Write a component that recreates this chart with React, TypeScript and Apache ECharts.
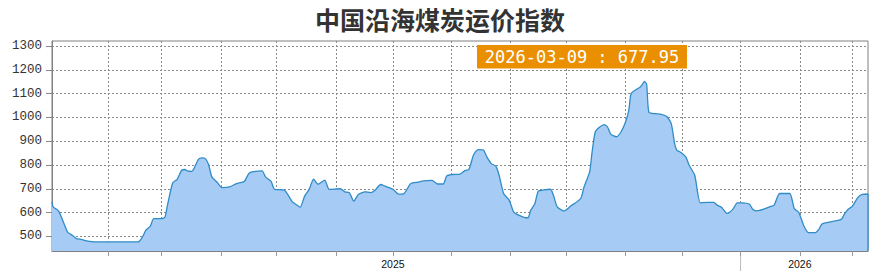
import { useEffect, useRef } from "react";
import * as echarts from "echarts";

const TITLE = "中国沿海煤炭运价指数";

const dates: string[] = [
  "2024-03-09", "2024-03-10", "2024-03-15", "2024-03-23", "2024-03-26", "2024-03-31",
  "2024-04-04", "2024-04-10", "2024-04-19", "2024-05-25", "2024-05-29", "2024-06-01",
  "2024-06-05", "2024-06-08", "2024-06-15", "2024-06-18", "2024-06-20", "2024-06-25",
  "2024-06-29", "2024-07-03", "2024-07-06", "2024-07-08", "2024-07-12", "2024-07-14",
  "2024-07-18", "2024-07-21", "2024-07-24", "2024-07-27", "2024-07-30", "2024-08-04",
  "2024-08-08", "2024-08-15", "2024-08-21", "2024-08-28", "2024-09-01", "2024-09-04",
  "2024-09-09", "2024-09-13", "2024-09-16", "2024-09-21", "2024-09-24", "2024-10-03",
  "2024-10-10", "2024-10-13", "2024-10-17", "2024-10-21", "2024-10-25", "2024-10-29",
  "2024-11-02", "2024-11-08", "2024-11-12", "2024-11-22", "2024-11-26", "2024-11-30",
  "2024-12-04", "2024-12-08", "2024-12-14", "2024-12-19", "2024-12-23", "2024-12-28",
  "2025-01-01", "2025-01-08", "2025-01-13", "2025-01-18", "2025-01-24", "2025-01-31",
  "2025-02-04", "2025-02-12", "2025-02-17", "2025-02-22", "2025-02-25", "2025-03-02",
  "2025-03-09", "2025-03-13", "2025-03-17", "2025-03-21", "2025-03-25", "2025-03-30",
  "2025-04-02", "2025-04-06", "2025-04-10", "2025-04-13", "2025-04-17", "2025-04-22",
  "2025-04-26", "2025-05-01", "2025-05-07", "2025-05-09", "2025-05-11", "2025-05-15",
  "2025-05-18", "2025-05-23", "2025-05-29", "2025-06-01", "2025-06-04", "2025-06-10",
  "2025-06-16", "2025-06-25", "2025-06-28", "2025-07-03", "2025-07-05", "2025-07-08",
  "2025-07-12", "2025-07-16", "2025-07-19", "2025-07-22", "2025-07-27", "2025-07-31",
  "2025-08-04", "2025-08-07", "2025-08-09", "2025-08-13", "2025-08-17", "2025-08-19",
  "2025-08-21", "2025-08-23", "2025-08-25", "2025-08-31", "2025-09-05", "2025-09-10",
  "2025-09-14", "2025-09-17", "2025-09-19", "2025-09-22", "2025-09-27", "2025-09-30",
  "2025-10-05", "2025-10-10", "2025-10-16", "2025-10-22", "2025-10-25", "2025-10-29",
  "2025-11-03", "2025-11-08", "2025-11-12", "2025-11-17", "2025-11-23", "2025-11-26",
  "2025-11-30", "2025-12-05", "2025-12-11", "2025-12-15", "2025-12-20", "2025-12-29",
  "2026-01-02", "2026-01-06", "2026-01-11", "2026-01-15", "2026-01-21", "2026-01-24",
  "2026-01-27", "2026-02-13", "2026-02-16", "2026-02-19", "2026-02-23", "2026-02-28",
  "2026-03-04", "2026-03-09",
];

const values: number[] = [
  645, 624, 606, 517, 508, 490,
  487, 480, 476, 476, 498, 526,
  543, 574, 574, 580, 624, 725,
  740, 778, 781, 775, 773, 785,
  824, 830, 828, 803, 750, 726,
  705, 708, 722, 731, 764, 771,
  774, 775, 750, 731, 698, 694,
  645, 635, 622, 669, 697, 740,
  719, 736, 697, 700, 687, 683,
  648, 676, 687, 684, 694, 718,
  711, 698, 677, 680, 722, 728,
  733, 735, 720, 720, 753, 760,
  762, 775, 782, 841, 865, 863,
  834, 806, 795, 757, 680, 652,
  603, 588, 578, 578, 607, 638,
  690, 695, 698, 666, 624, 606,
  627, 659, 708, 771, 848, 939,
  960, 970, 960, 929, 919, 939,
  980, 1030, 1100, 1116, 1127, 1139,
  1152, 1139, 1022, 1016, 1013, 1004,
  974, 890, 862, 855, 834, 799,
  757, 641, 643, 643, 631, 622,
  596, 613, 641, 641, 635, 613,
  607, 613, 624, 631, 680, 680,
  617, 601, 540, 515, 515, 529,
  552, 571, 594, 613, 626, 664,
  676, 677.95,
];

const yTicks: number[] = [500, 600, 700, 800, 900, 1000, 1100, 1200, 1300];
const xTickDates: string[] = [
  "2024-04-28", "2024-06-15", "2024-08-07", "2024-09-26", "2024-11-18", "2025-01-08",
  "2025-03-01", "2025-04-23", "2025-06-12", "2025-08-04", "2025-09-24", "2025-11-15",
  "2026-01-07", "2026-02-23",
];
const yearLabelDates: string[] = ["2025-01-08", "2026-01-07"];
const separatorDate = "2025-11-15";

function toTs(s: string): number {
  const [y, m, d] = s.split("-").map(Number);
  return new Date(y, m - 1, d).getTime();
}

export default function App() {
  const ref = useRef<HTMLDivElement>(null);

  useEffect(() => {
    if (!ref.current) return;
    const chart = echarts.init(ref.current, null, { renderer: "svg" });
    const data = dates.map((d, i) => [toTs(d), values[i]]);
    const lastDate = dates[dates.length - 1];
    const lastValue = values[values.length - 1];

    chart.setOption({
      animation: false,
      backgroundColor: "#ffffff",
      title: {
        text: TITLE,
        left: "center",
        top: 1,
        textStyle: {
          fontFamily: "Noto Sans CJK SC",
          fontSize: 25,
          fontWeight: "bold",
          color: "#333333",
        },
      },
      grid: {
        left: 52,
        right: 12,
        top: 41,
        bottom: 27,
        show: true,
        borderColor: "#808080",
        borderWidth: 1,
      },
      xAxis: {
        type: "value",
        min: toTs(dates[0]),
        max: toTs(lastDate),
        axisLine: { show: true, lineStyle: { color: "#808080", width: 1 } },
        axisTick: {
          show: true,
          length: 5,
          customValues: xTickDates.map(toTs),
          lineStyle: { color: "#999999" },
        },
        axisLabel: {
          customValues: yearLabelDates.map(toTs),
          formatter: (v: number) => String(new Date(v).getFullYear()),
          fontFamily: "Liberation Sans",
          fontSize: 10.5,
          color: "#111111",
          margin: 7,
        },
        splitLine: {
          show: true,
          lineStyle: { color: "#8a8a8a", type: [2, 2], width: 1 },
        },
      },
      yAxis: {
        type: "value",
        min: 438,
        max: 1322,
        axisLine: { show: true, lineStyle: { color: "#808080", width: 1 } },
        axisTick: {
          show: true,
          length: 6,
          customValues: yTicks,
          lineStyle: { color: "#888888" },
        },
        axisLabel: {
          customValues: yTicks,
          formatter: (v: number) => String(v),
          fontFamily: "Liberation Mono",
          fontSize: 12.5,
          color: "#333333",
          margin: 10,
        },
        splitLine: {
          show: true,
          lineStyle: { color: "#8a8a8a", type: [2, 2], width: 1 },
        },
      },
      series: [
        {
          type: "line",
          data,
          showSymbol: false,
          smooth: 0.2,
          lineStyle: { color: "#2f8cc6", width: 1.3 },
          areaStyle: { color: "#a6cbf5", opacity: 1 },
          z: 2,
        },
      ],
    });

    const sepX = chart.convertToPixel({ xAxisIndex: 0 }, toTs(separatorDate)) as number;
    const endPt = chart.convertToPixel({ gridIndex: 0 }, [toTs(lastDate), lastValue]) as number[];
    const basePt = chart.convertToPixel({ gridIndex: 0 }, [toTs(lastDate), 438]) as number[];

    chart.setOption({
      graphic: [
        {
          type: "group",
          left: 477,
          top: 45,
          children: [
            {
              type: "rect",
              shape: { x: 0, y: 0, width: 210, height: 23.5 },
              style: { fill: "#ea9000" },
            },
            {
              type: "text",
              x: 105,
              y: 12,
              style: {
                text: `${lastDate} : ${lastValue.toFixed(2)}`,
                fill: "#ffffff",
                font: '17px "DejaVu Sans Mono"',
                textAlign: "center",
                textVerticalAlign: "middle",
              },
            },
          ],
        },
        {
          type: "line",
          shape: { x1: sepX, y1: 252, x2: sepX, y2: 271 },
          style: { stroke: "#bbbbbb", lineWidth: 1 },
        },
        {
          type: "line",
          shape: { x1: endPt[0], y1: endPt[1], x2: basePt[0], y2: basePt[1] },
          style: { stroke: "#2f8cc6", lineWidth: 1.3 },
          z: 10,
        },
      ],
    });

    return () => chart.dispose();
  }, []);

  return (
    <div
      ref={ref}
      style={{ position: "fixed", left: 0, top: 0, width: 880, height: 278 }}
    />
  );
}
